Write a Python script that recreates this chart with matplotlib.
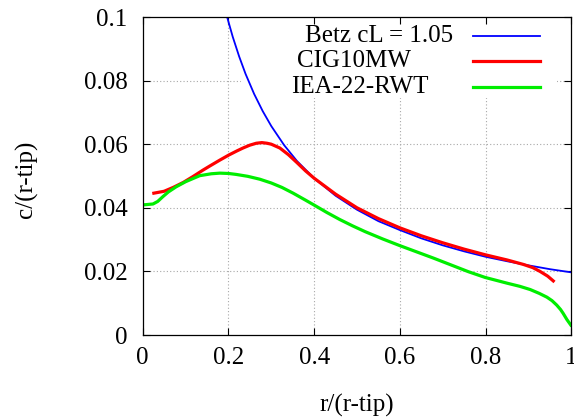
import matplotlib
matplotlib.use("Agg")
import matplotlib.pyplot as plt
from matplotlib.patches import Rectangle

plt.rcParams['font.family'] = ['Liberation Serif', 'DejaVu Serif']
plt.rcParams['font.size'] = 18

series_labels = ['Betz cL = 1.05', 'CIG10MW', 'IEA-22-RWT']
series_colors = ['#0000ff', '#ff0000', '#00ee00']

# Betz optimum chord
betz_r = [0.198, 0.21, 0.225, 0.24, 0.26, 0.28, 0.30, 0.33, 0.36, 0.40, 0.45,
          0.50, 0.55, 0.60, 0.65, 0.70, 0.75, 0.80, 0.85, 0.90, 0.95, 1.0]
betz_c = [0.0995, 0.0938, 0.0876, 0.0821, 0.0758, 0.0704, 0.0657, 0.0597,
          0.0547, 0.0493, 0.0438, 0.0394, 0.0358, 0.0330, 0.0304, 0.0282,
          0.0263, 0.0246, 0.0232, 0.0219, 0.0207, 0.0197]

cig_r = [0.026, 0.05, 0.071, 0.095, 0.117, 0.14, 0.156, 0.18, 0.201, 0.22,
         0.234, 0.25, 0.265, 0.278, 0.29, 0.30, 0.32, 0.34, 0.36, 0.38, 0.40,
         0.45, 0.50, 0.55, 0.60, 0.65, 0.70, 0.75, 0.80, 0.85, 0.888, 0.91,
         0.927, 0.945, 0.958]
cig_c = [0.0446, 0.0452, 0.0464, 0.0480, 0.0498, 0.0518, 0.0531, 0.0550,
         0.0566, 0.0579, 0.0588, 0.0597, 0.0603, 0.0605, 0.0603, 0.0600,
         0.0588, 0.0567, 0.0542, 0.0516, 0.0493, 0.0443, 0.0400, 0.0366,
         0.0337, 0.0312, 0.0290, 0.0270, 0.0252, 0.0236, 0.0222, 0.0212,
         0.0200, 0.0185, 0.0170]

iea_r = [0.0, 0.024, 0.035, 0.047, 0.06, 0.078, 0.10, 0.133, 0.16, 0.18, 0.20,
         0.218, 0.245, 0.273, 0.30, 0.325, 0.351, 0.38, 0.402, 0.43, 0.46,
         0.49, 0.519, 0.56, 0.60, 0.64, 0.678, 0.72, 0.76, 0.799, 0.85, 0.88,
         0.904, 0.925, 0.943, 0.955, 0.966, 0.975, 0.981, 0.99, 0.999]
iea_c = [0.0409, 0.0412, 0.0420, 0.0435, 0.0450, 0.0466, 0.0482, 0.0501,
         0.0507, 0.0509, 0.0508, 0.0505, 0.0499, 0.0490, 0.0478, 0.0464,
         0.0446, 0.0424, 0.0407, 0.0385, 0.0363, 0.0343, 0.0325, 0.0302,
         0.0281, 0.0261, 0.0242, 0.0220, 0.0199, 0.0181, 0.0163, 0.0153,
         0.0143, 0.0131, 0.0119, 0.0108, 0.0094, 0.0080, 0.0068, 0.0048,
         0.0031]

x_ticks = [0, 0.2, 0.4, 0.6, 0.8, 1]
x_tick_labels = ['0', '0.2', '0.4', '0.6', '0.8', '1']
y_ticks = [0, 0.02, 0.04, 0.06, 0.08, 0.1]
y_tick_labels = ['0', '0.02', '0.04', '0.06', '0.08', '0.1']

fig = plt.figure(figsize=(5.74, 4.18), dpi=100)
ax = fig.add_axes([142.7 / 574, 83 / 418, 428.6 / 574, 318 / 418])

# dotted grid, kept under the key box
for v in x_ticks[1:-1]:
    ax.axvline(v, color='#a8a8a8', lw=0.8, ls=(0, (1, 2)), zorder=0.3)
for v in y_ticks[1:-1]:
    ax.axhline(v, color='#a8a8a8', lw=0.8, ls=(0, (1, 2)), zorder=0.3)

ax.plot(betz_r, betz_c, color=series_colors[0], lw=1.3, zorder=2)
ax.plot(cig_r, cig_c, color=series_colors[1], lw=2.3, zorder=2.1)
ax.plot(iea_r, iea_c, color=series_colors[2], lw=2.3, zorder=2.2)

ax.set_xlim(0, 1)
ax.set_ylim(0, 0.1)
ax.set_xticks(x_ticks)
ax.set_xticklabels(x_tick_labels)
ax.set_yticks(y_ticks)
ax.set_yticklabels(y_tick_labels)
ax.tick_params(direction='in', length=5, width=0.8, top=True, right=True)
ax.tick_params(axis='x', pad=8.5)
ax.tick_params(axis='y', pad=11)
for s in ax.spines.values():
    s.set_linewidth(0.9)

ax.set_xlabel('r/(r-tip)')
ax.set_ylabel('c/(r-tip)')
ax.xaxis.set_label_coords(0.5, -0.185)
ax.yaxis.set_label_coords(-0.245, 0.49)

# key: opaque box without border, text then line sample
def ax_x(px):
    return (px - 142.7) / 428.6

def ax_y(py):
    return (335 - py) / 318

ax.add_patch(Rectangle((ax_x(241), ax_y(98)), ax_x(557) - ax_x(241),
                       ax_y(17) - ax_y(98), transform=ax.transAxes,
                       facecolor='white', edgecolor='none', zorder=0.6))
key_text_x = [305, 297, 291]
key_y = [36, 61, 87]
for lab, col, tx, ty in zip(series_labels, series_colors, key_text_x, key_y):
    ax.text(ax_x(tx), ax_y(ty), lab, transform=ax.transAxes,
            ha='left', va='center', zorder=3)
    ax.plot([ax_x(473), ax_x(540)], [ax_y(ty - 0.5), ax_y(ty - 0.5)],
            transform=ax.transAxes, color=col,
            lw=1.3 if col == series_colors[0] else 2.3, zorder=3)

fig.savefig('out.png', dpi=100)
